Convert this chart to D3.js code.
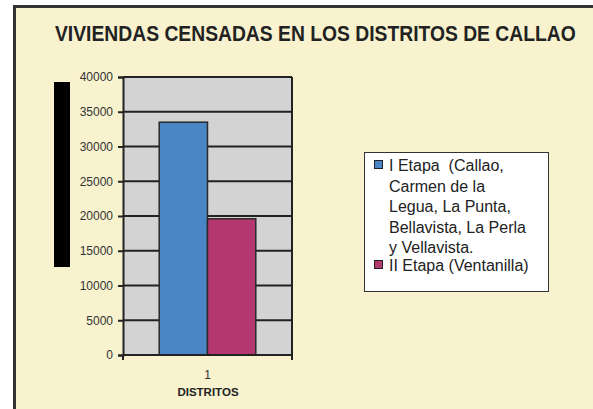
<!DOCTYPE html>
<html>
<head>
<meta charset="utf-8">
<script src="https://cdn.jsdelivr.net/npm/d3@7"></script>
<style>
  html, body { margin: 0; padding: 0; background: #ffffff; overflow: hidden; }
  svg { display: block; font-family: "Liberation Sans", Arial, sans-serif; }
</style>
</head>
<body>
<svg id="chart"></svg>
<script>
// Chart data
const titleText = "VIVIENDAS CENSADAS EN LOS DISTRITOS DE CALLAO";
const categories = ["1"];
const legendLines = [
  ["I Etapa  (Callao,", "Carmen de la", "Legua, La Punta,", "Bellavista, La Perla", "y Vellavista."],
  ["II Etapa (Ventanilla)"]
];
const seriesValues = [33500, 19600];
const seriesColors = ["#4a86c6", "#b5376f"];
const yTicks = [0, 5000, 10000, 15000, 20000, 25000, 30000, 35000, 40000];
const xTitle = "DISTRITOS";

// Dimensions
var width = 593, height = 409;
var plot = { left: 123, right: 292, top: 77, bottom: 355 };

const svg = d3.select("#chart")
  .attr("width", width)
  .attr("height", height);

// Cream frame; only the left and top borders are inside the picture
svg.append("rect")
  .attr("x", 14).attr("y", 6)
  .attr("width", width - 14).attr("height", height - 6)
  .attr("fill", "#f8f2cf");
svg.append("path")
  .attr("d", `M14.5,${height} V6.5 H${width}`)
  .attr("fill", "none")
  .attr("stroke", "#333")
  .attr("stroke-width", 3);

// Title (condensed horizontally to fit the frame)
const title = svg.append("text")
  .attr("font-size", 22)
  .attr("font-weight", "bold")
  .attr("fill", "#222")
  .text(titleText);
const titleScale = 521 / title.node().getComputedTextLength();
title.attr("transform", `translate(55,40.5) scale(${titleScale},1)`);

// Scales
const xScale = d3.scaleBand()
  .domain(categories)
  .range([plot.left, plot.right])
  .paddingInner(0)
  .paddingOuter(0.375);

const xSeries = d3.scaleBand()
  .domain(d3.range(seriesValues.length))
  .range([0, xScale.bandwidth()]);

const yScale = d3.scaleLinear()
  .domain([0, 40000])
  .range([plot.bottom, plot.top]);

// Plot background
svg.append("rect")
  .attr("x", plot.left).attr("y", plot.top)
  .attr("width", plot.right - plot.left)
  .attr("height", plot.bottom - plot.top)
  .attr("fill", "#d3d3d3");

// Gridlines
svg.append("g")
  .selectAll("line")
  .data(yTicks.filter(d => d > 0))
  .enter()
  .append("line")
  .attr("x1", plot.left).attr("x2", plot.right)
  .attr("y1", d => yScale(d)).attr("y2", d => yScale(d))
  .attr("stroke", "#222")
  .attr("stroke-width", 2);

// Right border of plot
svg.append("line")
  .attr("x1", plot.right).attr("x2", plot.right)
  .attr("y1", plot.top).attr("y2", plot.bottom)
  .attr("stroke", "#222")
  .attr("stroke-width", 2);

// Bars
svg.append("g")
  .selectAll("rect")
  .data(seriesValues)
  .enter()
  .append("rect")
  .attr("x", (d, i) => xScale(categories[0]) + xSeries(i))
  .attr("y", d => yScale(d))
  .attr("width", xSeries.bandwidth())
  .attr("height", d => yScale(0) - yScale(d))
  .attr("fill", (d, i) => seriesColors[i])
  .attr("stroke", "#2a2a2a")
  .attr("stroke-width", 1.5);

// Y axis
const yAxis = svg.append("g")
  .attr("transform", `translate(${plot.left},0)`)
  .call(d3.axisLeft(yScale).tickValues(yTicks).tickSize(5).tickPadding(5).tickFormat(d3.format("d")));
yAxis.select(".domain").attr("stroke", "#222").attr("stroke-width", 2);
yAxis.selectAll(".tick line").attr("stroke", "#222").attr("stroke-width", 2);
yAxis.selectAll("text")
  .attr("font-size", 12)
  .attr("fill", "#333")
  .attr("font-family", "Liberation Sans, Arial, sans-serif");

// X axis: ticks at category boundaries, label at center
const xAxisG = svg.append("g")
  .attr("transform", `translate(0,${plot.bottom})`);
xAxisG.append("line")
  .attr("x1", plot.left).attr("x2", plot.right)
  .attr("stroke", "#222").attr("stroke-width", 2);
xAxisG.selectAll(".bound")
  .data([plot.left, plot.right])
  .enter()
  .append("line")
  .attr("x1", d => d).attr("x2", d => d)
  .attr("y1", 0).attr("y2", 5)
  .attr("stroke", "#222").attr("stroke-width", 2);
xAxisG.selectAll(".lbl")
  .data(categories)
  .enter()
  .append("text")
  .attr("x", d => xScale(d) + xScale.bandwidth() / 2)
  .attr("y", 24)
  .attr("text-anchor", "middle")
  .attr("font-size", 12)
  .attr("fill", "#333")
  .text(d => d);

// X axis title
svg.append("text")
  .attr("x", 208)
  .attr("y", 396)
  .attr("text-anchor", "middle")
  .attr("font-size", 11.5)
  .attr("font-weight", "bold")
  .attr("fill", "#222")
  .text(xTitle);

// Y axis title placeholder (rendered as a solid black block)
svg.append("rect")
  .attr("x", 54).attr("y", 82)
  .attr("width", 16).attr("height", 185)
  .attr("fill", "#000");

// Legend
const legend = svg.append("g");
legend.append("rect")
  .attr("x", 364.5).attr("y", 152.5)
  .attr("width", 184).attr("height", 139)
  .attr("fill", "#ffffff")
  .attr("stroke", "#333")
  .attr("stroke-width", 1);

const legendStart = [171, 271];
legendLines.forEach((lines, i) => {
  legend.append("rect")
    .attr("x", 374.5).attr("y", legendStart[i] - 10.5)
    .attr("width", 8).attr("height", 8)
    .attr("fill", seriesColors[i])
    .attr("stroke", "#222")
    .attr("stroke-width", 1);
  legend.append("text")
    .attr("font-size", 16)
    .attr("fill", "#222")
    .style("white-space", "pre")
    .selectAll("tspan")
    .data(lines)
    .enter()
    .append("tspan")
    .attr("x", 389)
    .attr("y", (d, j) => legendStart[i] + j * 20.6)
    .text(d => d);
});
</script>
</body>
</html>
